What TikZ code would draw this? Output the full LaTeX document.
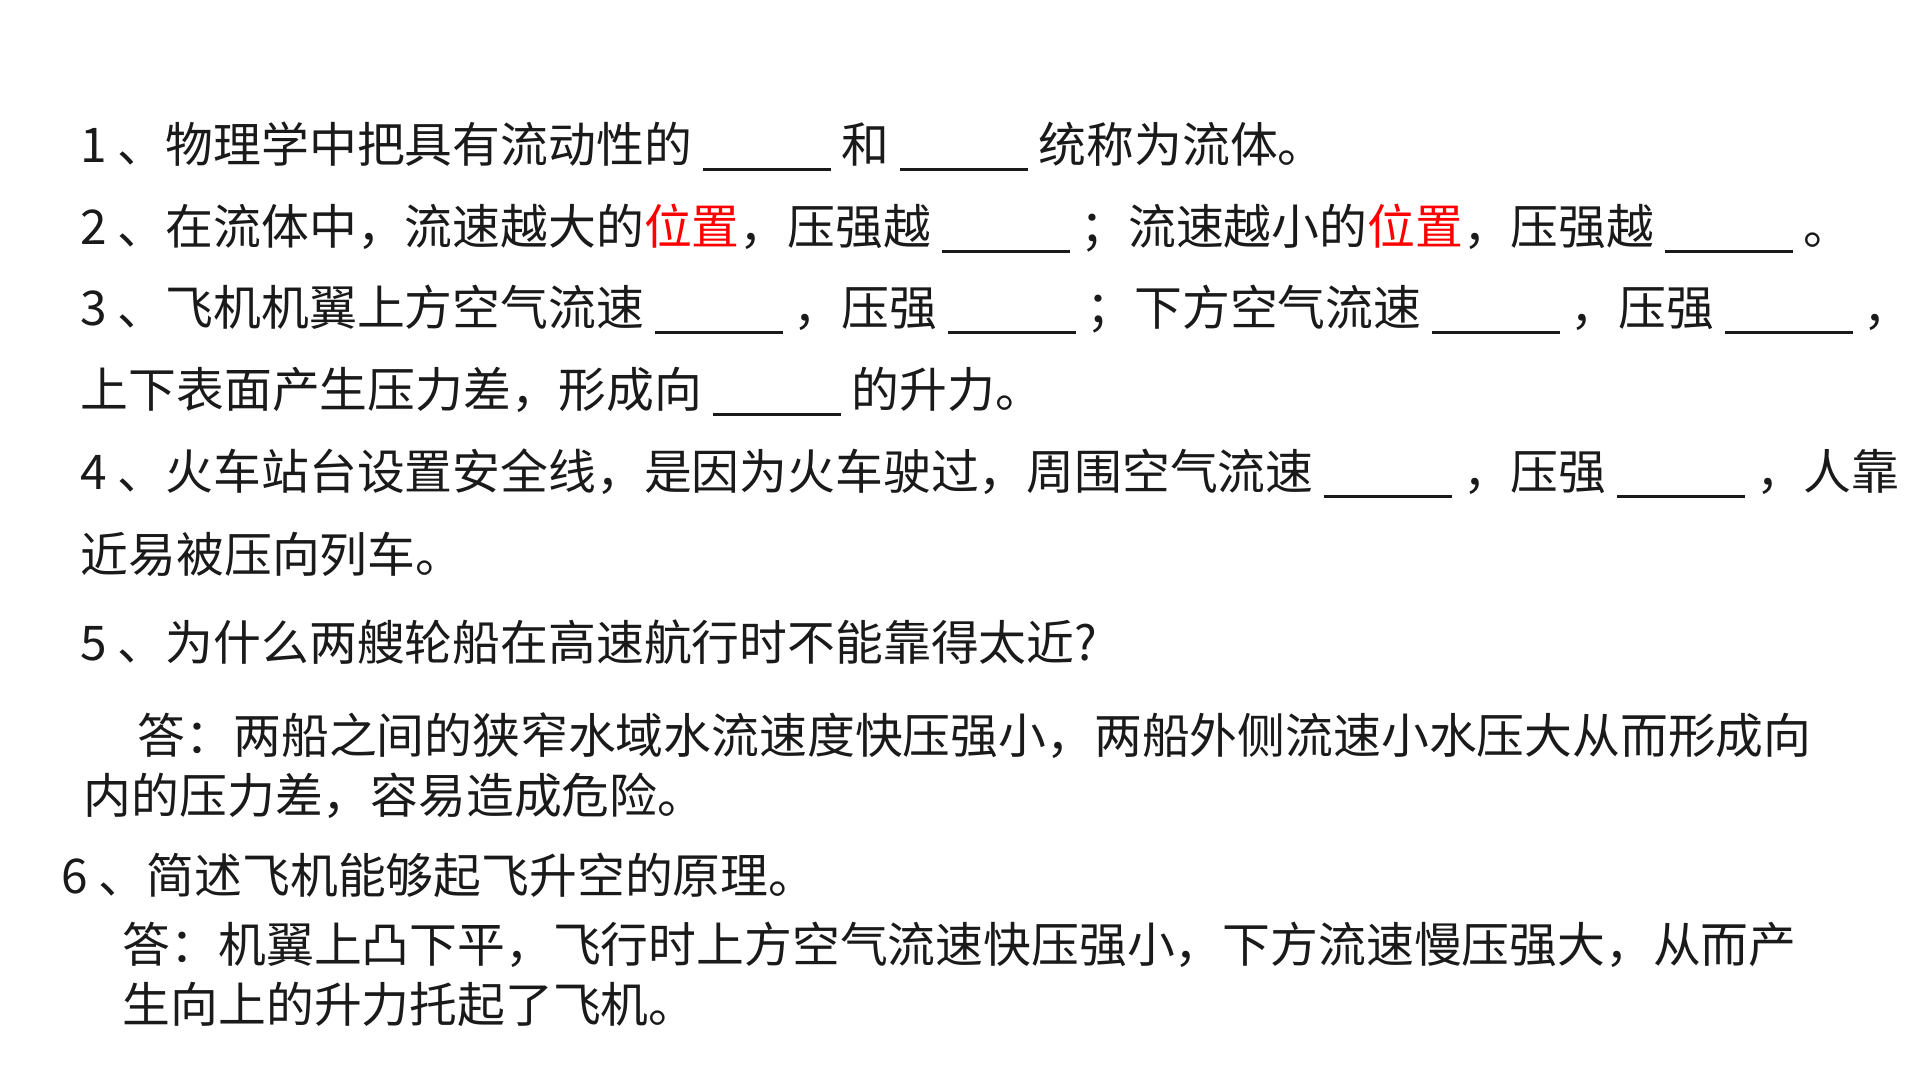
\documentclass[tikz,border=0pt]{standalone}
\usepackage{fontspec}
\newfontfamily\cjk{Noto Sans CJK SC}
\definecolor{ink}{HTML}{1A1A1A}
\definecolor{hl}{HTML}{FF0000}
\newcommand{\blank}{\rule[-0.08cm]{1.28cm}{0.9pt}}
\begin{document}
\begin{tikzpicture}[x=0.01cm,y=-0.01cm,
  txt/.style={anchor=base west,inner sep=0,font=\cjk\fontsize{13.6pt}{16pt}\selectfont,text=ink}]
\useasboundingbox[fill=white] (0,0) rectangle (1920,1080);
\node[txt] (l1) at (80,163) {1 、物理学中把具有流动性的 \blank{} 和 \blank{} 统称为流体。};
\node[txt] (l2) at (80,245) {2 、在流体中，流速越大的\textcolor{hl}{位置}，压强越 \blank{} ；流速越小的\textcolor{hl}{位置}，压强越 \blank{} 。};
\node[txt] (l3) at (80,326) {3 、飞机机翼上方空气流速 \blank{} ，压强 \blank{} ；下方空气流速 \blank{} ，压强 \blank{} ，};
\node[txt] (l3b) at (80,408) {上下表面产生压力差，形成向 \blank{} 的升力。};
\node[txt] (l4) at (80,490) {4 、火车站台设置安全线，是因为火车驶过，周围空气流速 \blank{} ，压强 \blank{} ，人靠};
\node[txt] (l4b) at (80,573) {近易被压向列车。};
\node[txt] (l5) at (80,661) {5 、为什么两艘轮船在高速航行时不能靠得太近?};
\node[txt] (a5) at (137,754) {答：两船之间的狭窄水域水流速度快压强小，两船外侧流速小水压大从而形成向};
\node[txt] (a5b) at (83,814) {内的压力差，容易造成危险。};
\node[txt] (l6) at (61,894) {6 、简述飞机能够起飞升空的原理。};
\node[txt] (a6) at (122,963) {答：机翼上凸下平，飞行时上方空气流速快压强小，下方流速慢压强大，从而产};
\node[txt] (a6b) at (122,1023) {生向上的升力托起了飞机。};
\end{tikzpicture}
\end{document}
